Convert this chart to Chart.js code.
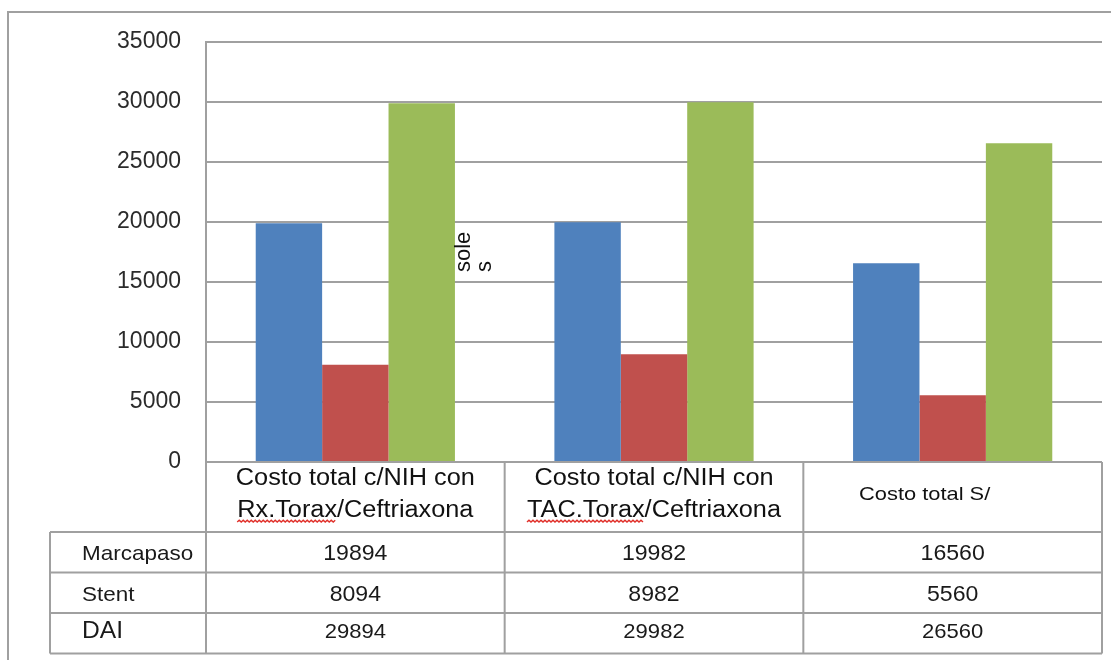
<!DOCTYPE html>
<html>
<head>
<meta charset="utf-8">
<script src="https://cdn.jsdelivr.net/npm/chart.js@4.4.0/dist/chart.umd.min.js"></script>
<style>
  html, body { margin: 0; padding: 0; background: #ffffff; }
  #wrap { width: 1111px; height: 660px; position: relative; }
</style>
</head>
<body>
<div id="wrap"><canvas id="c" width="1111" height="660"></canvas></div>
<script>
// Categories (each line of the cell label is its own entry)
const categories = [
  ["Costo total c/NIH con", "Rx.Torax/Ceftriaxona"],
  ["Costo total c/NIH con", "TAC.Torax/Ceftriaxona"],
  ["Costo total S/"]
];
// Words flagged by the spell checker in the second label line
const flaggedWords = ["Rx.Torax", "TAC.Torax", null];

const seriesNames = ["Marcapaso", "Stent", "DAI"];
const marcapaso = [19894, 19982, 16560];
const stent = [8094, 8982, 5560];
const dai = [29894, 29982, 26560];

const yTicks = [0, 5000, 10000, 15000, 20000, 25000, 30000, 35000];
const axisTitleLines = ["sole", "s"];

const seriesColors = ["#4F81BD", "#C0504D", "#9BBB59"];
const lineGrey = "#a0a0a0";
const FONT = "'Liberation Sans', Arial, sans-serif";

const seriesValues = [marcapaso, stent, dai];

// Draws text with a slight horizontal stretch
function stretchText(ctx, text, x, y, size, align, sx, color) {
  ctx.save();
  ctx.font = size + "px " + FONT;
  ctx.fillStyle = color || "#1a1a1a";
  ctx.textBaseline = "alphabetic";
  const w = ctx.measureText(text).width * sx;
  let left = x;
  if (align === "center") left = x - w / 2;
  else if (align === "right") left = x - w;
  ctx.translate(left, y);
  ctx.scale(sx, 1);
  ctx.textAlign = "left";
  ctx.fillText(text, 0, 0);
  ctx.restore();
  return { left: left, width: w };
}

// Wavy spell-check underline
function squiggle(ctx, x0, x1, y) {
  ctx.save();
  ctx.strokeStyle = "#e0302a";
  ctx.lineWidth = 1.4;
  ctx.beginPath();
  let up = true;
  ctx.moveTo(x0, y);
  for (let x = x0 + 2; x <= x1; x += 2) {
    ctx.lineTo(x, up ? y - 1.8 : y);
    up = !up;
  }
  ctx.stroke();
  ctx.restore();
}

const dataTablePlugin = {
  id: "dataTable",
  afterDraw(chart) {
    const ctx = chart.ctx;
    const area = chart.chartArea;
    const xs = chart.scales.x;
    const n = categories.length;
    const colW = (area.right - area.left) / n;
    const bounds = [];
    for (let i = 0; i <= n; i++) bounds.push(area.left + i * colW);

    const catTop = area.bottom;
    const rowTop = catTop + 70;
    const rowH = 40.5;
    const tableLeft = 50;
    const rowsBottom = rowTop + rowH * seriesNames.length;

    ctx.save();
    ctx.strokeStyle = lineGrey;
    ctx.lineWidth = 2;
    ctx.beginPath();
    // outer frame (left and top edges)
    ctx.moveTo(8, 660); ctx.lineTo(8, 12); ctx.lineTo(1111, 12);
    // category row
    ctx.moveTo(area.left, catTop); ctx.lineTo(area.right, catTop);
    bounds.forEach(b => { ctx.moveTo(b, catTop); ctx.lineTo(b, rowsBottom); });
    // data rows
    for (let r = 0; r <= seriesNames.length; r++) {
      const y = rowTop + r * rowH;
      ctx.moveTo(tableLeft, y); ctx.lineTo(area.right, y);
    }
    ctx.moveTo(tableLeft, rowTop); ctx.lineTo(tableLeft, rowsBottom);
    ctx.stroke();
    ctx.restore();

    // category labels
    categories.forEach((lines, i) => {
      const cx = xs.getPixelForValue(i);
      if (lines.length === 2) {
        stretchText(ctx, lines[0], cx, catTop + 23, 23, "center", 1.1, "#111");
        const r = stretchText(ctx, lines[1], cx, catTop + 55, 23, "center", 1.1, "#111");
        if (flaggedWords[i]) {
          ctx.save();
          ctx.font = "23px " + FONT;
          const fw = ctx.measureText(flaggedWords[i]).width * 1.1;
          ctx.restore();
          squiggle(ctx, r.left, r.left + fw, catTop + 60);
        }
      } else {
        stretchText(ctx, lines[0], cx - 28, catTop + 38, 19, "center", 1.15, "#111");
      }
    });

    // data rows
    seriesNames.forEach((name, r) => {
      const yb = rowTop + r * rowH + 28 - (r === 2 ? 3 : 0);
      const sz = r === 2 ? 23 : 21;
      stretchText(ctx, name, 82, yb, sz, "left", 1.07, "#1a1a1a");
      seriesValues[r].forEach((v, i) => {
        const cx = xs.getPixelForValue(i);
        stretchText(ctx, String(v), cx, yb, r === 2 ? 21 : 22, "center", 1.05, "#1a1a1a");
      });
    });

    // axis title
    ctx.save();
    ctx.translate(470, 272);
    ctx.rotate(-Math.PI / 2);
    ctx.font = "22px " + FONT;
    ctx.fillStyle = "#111";
    ctx.textAlign = "left";
    ctx.textBaseline = "alphabetic";
    axisTitleLines.forEach((t, k) => ctx.fillText(t, 0, k * 21));
    ctx.restore();
  }
};

new Chart(document.getElementById("c"), {
  type: "bar",
  data: {
    labels: categories,
    datasets: seriesNames.map((name, k) => ({
      label: name,
      data: seriesValues[k],
      backgroundColor: seriesColors[k],
      borderWidth: 0,
      categoryPercentage: 0.667,
      barPercentage: 1.0
    }))
  },
  options: {
    responsive: false,
    animation: false,
    devicePixelRatio: 1,
    layout: { padding: { left: 0, top: 42, right: 9, bottom: 198 } },
    plugins: { legend: { display: false }, tooltip: { enabled: false } },
    scales: {
      x: { display: false },
      y: {
        min: 0,
        max: 35000,
        afterFit(scale) { scale.width = 206; },
        afterBuildTicks(scale) { scale.ticks = yTicks.map(v => ({ value: v })); },
        ticks: {
          padding: 25,
          color: "#2b2b2b",
          font: { family: FONT, size: 23 },
          callback: v => String(v)
        },
        grid: { color: lineGrey, lineWidth: 2, drawTicks: false },
        border: { display: true, color: lineGrey, width: 2 }
      }
    }
  },
  plugins: [dataTablePlugin]
});
</script>
</body>
</html>
